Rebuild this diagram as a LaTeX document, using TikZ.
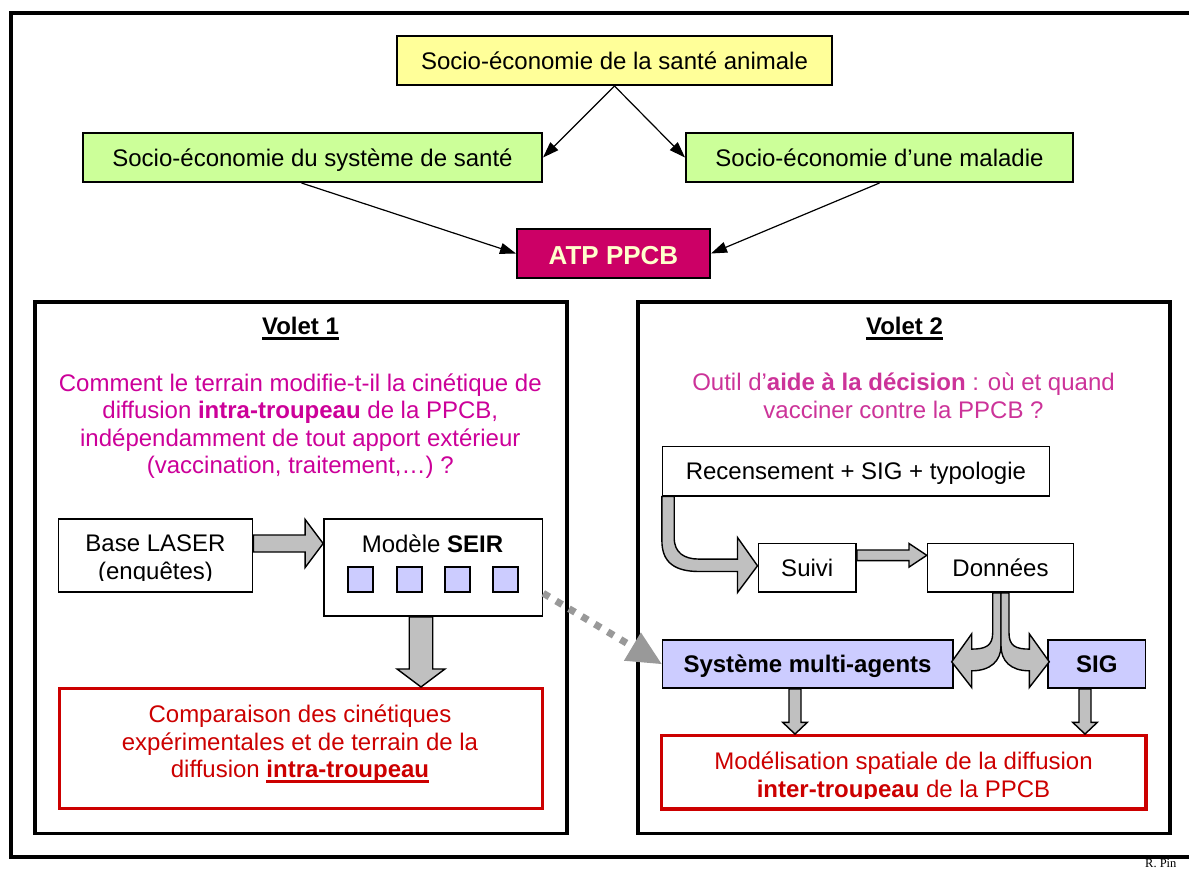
\documentclass[tikz,border=0pt]{standalone}
\usepackage{fontspec}
\setmainfont{Liberation Sans}
\newfontfamily\signaturefont{Liberation Serif}
\usetikzlibrary{calc,arrows.meta}

\definecolor{boxyellow}{HTML}{FFFF99}
\definecolor{boxgreen}{HTML}{CCFF99}
\definecolor{atpfill}{HTML}{CC0066}
\definecolor{atptext}{HTML}{FFFFCC}
\definecolor{lavender}{HTML}{CCCCFF}
\definecolor{questionA}{HTML}{CC0099}
\definecolor{questionB}{HTML}{CC3399}
\definecolor{resultred}{HTML}{CC0000}
\definecolor{arrowgray}{HTML}{C0C0C0}
\definecolor{dotgray}{HTML}{999999}

\newcommand\bodyfont{\fontsize{24pt}{27.5pt}\selectfont}
% underlined word with a rule close under the baseline
\newcommand\ulword[1]{\setbox0=\hbox{#1}\rlap{\rule[-5.5pt]{\wd0}{3pt}}\box0}
% straight block arrow: start, end, shaft half-width, head half-width, head length
\newcommand\straightblock[5]{%
  \coordinate (sbhead) at ($(#2)!#5!(#1)$);
  \filldraw[blockarrow]
    ($(#1)!#3!90:(#2)$) -- ($(sbhead)!#3!-90:(#1)$) -- ($(sbhead)!#4!-90:(#1)$) -- (#2)
    -- ($(sbhead)!#4!90:(#1)$) -- ($(sbhead)!#3!90:(#1)$) -- ($(#1)!#3!-90:(#2)$) -- cycle;
}

\begin{document}
\begin{tikzpicture}[x=1pt,y=-1pt,
  framebox/.style={draw=black, line width=1.6pt, inner sep=0pt, font=\bodyfont, text height=17.2pt, text depth=0pt},
  headbox/.style={framebox, line width=2pt, minimum height=49pt},
  panelbox/.style={draw=black, line width=3.8pt, inner sep=0pt},
  resultbox/.style={draw=resultred, line width=3.3pt, inner sep=0pt},
  agentbox/.style={framebox, fill=lavender, font=\bodyfont\bfseries, minimum height=48pt},
  cellbox/.style={draw=black, line width=1.5pt, fill=lavender, minimum size=25pt, inner sep=0pt},
  paratext/.style={font=\bodyfont, align=center, inner sep=0pt},
  paneltitle/.style={font=\bodyfont\bfseries, inner sep=0pt, anchor=base},
  blockarrow/.style={fill=arrowgray, draw=black, line width=1.4pt, line join=miter},
  thinlink/.style={draw=black, line width=1.2pt, -{Triangle[length=16pt,width=11pt]}},
  dotlink/.style={draw=dotgray, line width=7pt, dash pattern=on 7pt off 8pt}
]
\fill[white] (0,0) rectangle (1189,868);
\useasboundingbox (0,0) rectangle (1189,868);

% outer frame (its right side runs past the page)
\draw[line width=4pt] (10.5,12.7) rectangle (1210,857);

% ---------- header ----------
\node[headbox, fill=boxyellow, minimum width=435pt] (top) at (614.5,60.5) {Socio-économie de la santé animale};
\node[headbox, fill=boxgreen, minimum width=459pt] (sys) at (312.5,157.5) {Socio-économie du système de santé};
\node[headbox, fill=boxgreen, minimum width=387pt] (mal) at (879.5,157.5) {Socio-économie d’une maladie};
\node[headbox, fill=atpfill, minimum width=193pt, text=atptext,
      font=\fontsize{26pt}{30pt}\selectfont\bfseries, text height=22.6pt] (atp) at (613.5,253.5) {ATP PPCB};

\draw[thinlink] (top.south) -- (sys.east);
\draw[thinlink] (top.south) -- (mal.west);
\draw[thinlink] ([xshift=-11pt]sys.south) -- (atp.west);
\draw[thinlink] (mal.south) -- (atp.east);

% ---------- panel 1 ----------
\node[panelbox, minimum width=531.8pt, minimum height=531.6pt] (v1) at (300.9,567.6) {};
\node[paneltitle] (v1title) at (300.5,334.6) {\ulword{Volet 1}};
\node[paratext, text=questionA] (q1) at (300.3,426.75)
  {\strut Comment le terrain modifie-t-il la cinétique de\\
   \strut diffusion \textbf{intra-troupeau} de la PPCB,\\
   \strut indépendamment de tout apport extérieur\\
   \strut (vaccination, traitement,…) ?};

\begin{scope}
  \clip (58.6,519) rectangle (252.5,580.4);
  \node[paratext] (lasertext) at (155.5,560.05) {\strut Base LASER\\\strut (enquêtes)};
\end{scope}
\node[framebox, minimum width=194pt, minimum height=73pt] (laser) at (155.5,555.5) {};

\node[framebox, minimum width=218.5pt, minimum height=97pt] (seir) at (433.2,567.5) {};
\node[font=\bodyfont, inner sep=0pt, anchor=base] (seirtext) at (432.5,552.9) {Modèle \textbf{SEIR}};
\node[cellbox] (c1) at (360.7,579.5) {};
\node[cellbox] (c2) at (409.3,579.5) {};
\node[cellbox] (c3) at (457.3,579.5) {};
\node[cellbox] (c4) at (505.5,579.5) {};

\node[resultbox, minimum width=483pt, minimum height=119.7pt] (comp) at (301,748.45) {};
\node[paratext, text=resultred] (comptext) at (300,744.5)
  {\strut Comparaison des cinétiques\\
   \strut expérimentales et de terrain de la\\
   \strut diffusion \ulword{\textbf{intra-troupeau}}};

\coordinate (a1s) at (laser.east |- 0,543.5);
\coordinate (a1e) at (seir.west |- 0,543.5);
\straightblock{a1s}{a1e}{8.5pt}{24pt}{18pt}
\coordinate (a2s) at (seir.south -| 421,0);
\coordinate (a2e) at (comp.north -| 421,0);
\straightblock{a2s}{a2e}{11.75pt}{24pt}{18pt}

% ---------- panel 2 ----------
\node[panelbox, minimum width=531.7pt, minimum height=531.6pt] (v2) at (904.15,567.6) {};
\node[paneltitle] (v2title) at (904.5,334.6) {\ulword{Volet 2}};
\node[paratext, text=questionB] (q2) at (903.5,398.75)
  {\strut Outil d’\textbf{aide à la décision} : où et quand\\
   \strut vacciner contre la PPCB ?};

\node[framebox, minimum width=387pt, minimum height=49.3pt] (recens) at (855.9,471.05) {Recensement + SIG + typologie};
\node[framebox, minimum width=97.5pt, minimum height=48.4pt] (suivi) at (807.25,567.8) {Suivi};
\node[framebox, minimum width=145.8pt, minimum height=48.4pt] (donnees) at (1000.5,567.8) {Données};
\node[agentbox, minimum width=290.3pt] (systeme) at (807.55,664) {Système multi-agents};
\node[agentbox, minimum width=97.5pt] (sig) at (1096.75,664) {SIG};

\begin{scope}
  \clip (661.7,735.7) rectangle (1146,798.5);
  \node[paratext, text=resultred] (modeltext) at (903.5,777.85)
    {\strut Modélisation spatiale de la diffusion\\
     \strut \textbf{inter-troupeau} de la PPCB};
\end{scope}
\node[resultbox, minimum width=484.3pt, minimum height=73.3pt] (model) at (903.85,772.35) {};

% bent arrow from the census box to the follow-up box
\begin{scope}[shift={(recens.south west)}]
  \filldraw[blockarrow] (0.3,0) -- (0.3,44.3)
    .. controls (0.3,66.3) and (13.6,75) .. (37.6,75) -- (75.9,75) -- (75.9,96)
    -- (95.9,69.3) -- (75.9,41) -- (75.9,62.6) -- (37.6,62.6)
    .. controls (22.6,62.6) and (12.6,56.3) .. (12.6,41.3) -- (12.6,0) -- cycle;
\end{scope}

\coordinate (a3s) at (suivi.east |- 0,555.3);
\coordinate (a3e) at (donnees.west |- 0,555.3);
\straightblock{a3s}{a3e}{5.3pt}{11.8pt}{17.8pt}

% split arrow from the data box to both tools
\begin{scope}[shift={(donnees.south)}]
  \filldraw[blockarrow] (-7.8,0) -- (-7.8,40)
    .. controls (-7.8,53) and (-15,56.3) .. (-28.8,56.3) -- (-28.8,41) -- (-48.8,69)
    -- (-28.8,94.7) -- (-28.8,78) .. controls (-10,78) and (0.5,68) .. (0.5,53) -- (0.5,0) -- cycle;
  \filldraw[blockarrow] (8.5,0) -- (8.5,40)
    .. controls (8.5,53) and (15,56.3) .. (28.8,56.3) -- (28.8,41) -- (48.8,69)
    -- (28.8,94.7) -- (28.8,78) .. controls (10,78) and (0.5,68) .. (0.5,53) -- (0.5,0) -- cycle;
\end{scope}

\coordinate (a4s) at (systeme.south -| 795,0);
\coordinate (a4e) at (model.north -| 795,0);
\straightblock{a4s}{a4e}{6pt}{12.3pt}{11.7pt}
\coordinate (a5s) at (sig.south -| 1085,0);
\coordinate (a5e) at (model.north -| 1085,0);
\straightblock{a5s}{a5e}{6pt}{12.3pt}{11.7pt}

% dotted link between the two panels
\coordinate (d1) at (seir.east |- 0,593.3);
\coordinate (dhead) at ($(systeme.west)!34pt!(d1)$);
\draw[dotlink] (d1) -- (dhead);
\fill[dotgray] ($(dhead)!16.5pt!90:(systeme.west)$) -- (systeme.west) -- ($(dhead)!16.5pt!-90:(systeme.west)$) -- cycle;

% signature
\node[font=\signaturefont\fontsize{12.5pt}{15pt}\selectfont, inner sep=0pt, anchor=base west] (author) at (1145,867) {R. Pin};
\end{tikzpicture}
\end{document}
